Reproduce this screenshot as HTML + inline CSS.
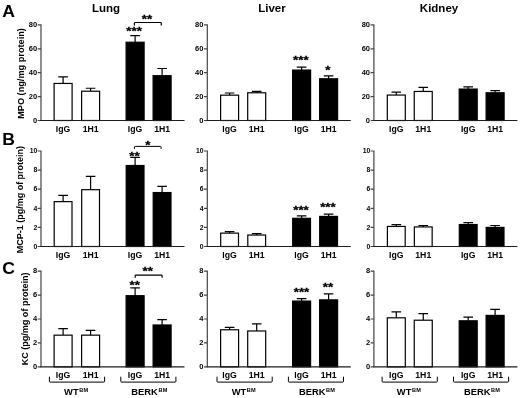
<!DOCTYPE html>
<html><head><meta charset="utf-8"><title>Figure</title>
<style>html,body{margin:0;padding:0;background:#fff}body{width:520px;height:398px;overflow:hidden}</style>
</head><body>
<svg width="520" height="398" viewBox="0 0 520 398" style="display:block">
<rect width="520" height="398" fill="#fff"/>
<g font-family='"Liberation Sans", sans-serif' font-weight="bold" fill="#000" stroke="none">
<path d="M63.10 83.45V76.88M58.30 76.88H67.90" stroke="#000" stroke-width="1.2" fill="none"/>
<rect x="54.10" y="83.45" width="18.0" height="37.05" fill="#fff" stroke="#000" stroke-width="1.2"/>
<path d="M90.60 91.22V88.23M85.80 88.23H95.40" stroke="#000" stroke-width="1.2" fill="none"/>
<rect x="81.60" y="91.22" width="18.0" height="29.28" fill="#fff" stroke="#000" stroke-width="1.2"/>
<path d="M135.10 42.23V35.66M130.30 35.66H139.90" stroke="#000" stroke-width="1.2" fill="none"/>
<rect x="126.10" y="42.23" width="18.0" height="78.27" fill="#000" stroke="#000" stroke-width="1.2"/>
<path d="M162.10 75.69V68.52M157.30 68.52H166.90" stroke="#000" stroke-width="1.2" fill="none"/>
<rect x="153.10" y="75.69" width="18.0" height="44.81" fill="#000" stroke="#000" stroke-width="1.2"/>
<path d="M41.00 24.30V120.50M37.70 120.50H41.00M37.70 96.60H41.00M37.70 72.70H41.00M37.70 48.80H41.00M37.70 24.90H41.00" stroke="#444" stroke-width="1.2" fill="none"/>
<path d="M40.40 120.50H184.50" stroke="#1c1c1c" stroke-width="1.2" fill="none"/>
<text x="37.10" y="123.09" font-size="7.5" text-anchor="end">0</text>
<text x="37.10" y="99.19" font-size="7.5" text-anchor="end">20</text>
<text x="37.10" y="75.29" font-size="7.5" text-anchor="end">40</text>
<text x="37.10" y="51.39" font-size="7.5" text-anchor="end">60</text>
<text x="37.10" y="27.49" font-size="7.5" text-anchor="end">80</text>
<text x="63.10" y="131.50" font-size="8.7" text-anchor="middle">IgG</text>
<text x="90.60" y="131.50" font-size="8.7" text-anchor="middle">1H1</text>
<text x="135.10" y="131.50" font-size="8.7" text-anchor="middle">IgG</text>
<text x="162.10" y="131.50" font-size="8.7" text-anchor="middle">1H1</text>
<path d="M229.60 95.17V93.02M224.80 93.02H234.40" stroke="#000" stroke-width="1.2" fill="none"/>
<rect x="220.60" y="95.17" width="18.0" height="25.33" fill="#fff" stroke="#000" stroke-width="1.2"/>
<path d="M256.70 92.78V91.34M251.90 91.34H261.50" stroke="#000" stroke-width="1.2" fill="none"/>
<rect x="247.70" y="92.78" width="18.0" height="27.72" fill="#fff" stroke="#000" stroke-width="1.2"/>
<path d="M301.60 70.07V67.20M296.80 67.20H306.40" stroke="#000" stroke-width="1.2" fill="none"/>
<rect x="292.60" y="70.07" width="18.0" height="50.43" fill="#000" stroke="#000" stroke-width="1.2"/>
<path d="M328.60 78.79V75.93M323.80 75.93H333.40" stroke="#000" stroke-width="1.2" fill="none"/>
<rect x="319.60" y="78.79" width="18.0" height="41.71" fill="#000" stroke="#000" stroke-width="1.2"/>
<path d="M207.30 24.30V120.50M204.00 120.50H207.30M204.00 96.60H207.30M204.00 72.70H207.30M204.00 48.80H207.30M204.00 24.90H207.30" stroke="#444" stroke-width="1.2" fill="none"/>
<path d="M206.70 120.50H350.80" stroke="#1c1c1c" stroke-width="1.2" fill="none"/>
<text x="203.40" y="123.09" font-size="7.5" text-anchor="end">0</text>
<text x="203.40" y="99.19" font-size="7.5" text-anchor="end">20</text>
<text x="203.40" y="75.29" font-size="7.5" text-anchor="end">40</text>
<text x="203.40" y="51.39" font-size="7.5" text-anchor="end">60</text>
<text x="203.40" y="27.49" font-size="7.5" text-anchor="end">80</text>
<text x="229.60" y="131.50" font-size="8.7" text-anchor="middle">IgG</text>
<text x="256.70" y="131.50" font-size="8.7" text-anchor="middle">1H1</text>
<text x="301.60" y="131.50" font-size="8.7" text-anchor="middle">IgG</text>
<text x="328.60" y="131.50" font-size="8.7" text-anchor="middle">1H1</text>
<path d="M396.30 95.05V92.06M391.50 92.06H401.10" stroke="#000" stroke-width="1.2" fill="none"/>
<rect x="387.30" y="95.05" width="18.0" height="25.45" fill="#fff" stroke="#000" stroke-width="1.2"/>
<path d="M423.25 91.46V87.28M418.45 87.28H428.05" stroke="#000" stroke-width="1.2" fill="none"/>
<rect x="414.25" y="91.46" width="18.0" height="29.04" fill="#fff" stroke="#000" stroke-width="1.2"/>
<path d="M468.20 89.07V86.92M463.40 86.92H473.00" stroke="#000" stroke-width="1.2" fill="none"/>
<rect x="459.20" y="89.07" width="18.0" height="31.43" fill="#000" stroke="#000" stroke-width="1.2"/>
<path d="M495.10 92.78V90.62M490.30 90.62H499.90" stroke="#000" stroke-width="1.2" fill="none"/>
<rect x="486.10" y="92.78" width="18.0" height="27.72" fill="#000" stroke="#000" stroke-width="1.2"/>
<path d="M373.90 24.30V120.50M370.60 120.50H373.90M370.60 96.60H373.90M370.60 72.70H373.90M370.60 48.80H373.90M370.60 24.90H373.90" stroke="#444" stroke-width="1.2" fill="none"/>
<path d="M373.30 120.50H517.40" stroke="#1c1c1c" stroke-width="1.2" fill="none"/>
<text x="370.00" y="123.09" font-size="7.5" text-anchor="end">0</text>
<text x="370.00" y="99.19" font-size="7.5" text-anchor="end">20</text>
<text x="370.00" y="75.29" font-size="7.5" text-anchor="end">40</text>
<text x="370.00" y="51.39" font-size="7.5" text-anchor="end">60</text>
<text x="370.00" y="27.49" font-size="7.5" text-anchor="end">80</text>
<text x="396.30" y="131.50" font-size="8.7" text-anchor="middle">IgG</text>
<text x="423.25" y="131.50" font-size="8.7" text-anchor="middle">1H1</text>
<text x="468.20" y="131.50" font-size="8.7" text-anchor="middle">IgG</text>
<text x="495.10" y="131.50" font-size="8.7" text-anchor="middle">1H1</text>
<text transform="translate(23.5 73.5) rotate(-90) scale(1 0.94)" font-size="9.2" text-anchor="middle">MPO (ng/mg protein)</text>
<text transform="translate(2.3 17.25) scale(1.06 1.02)" font-size="16.6">A</text>
<path d="M63.10 201.62V195.41M58.30 195.41H67.90" stroke="#000" stroke-width="1.2" fill="none"/>
<rect x="54.20" y="201.62" width="17.8" height="44.88" fill="#fff" stroke="#000" stroke-width="1.2"/>
<path d="M90.60 189.68V176.31M85.80 176.31H95.40" stroke="#000" stroke-width="1.2" fill="none"/>
<rect x="81.70" y="189.68" width="17.8" height="56.82" fill="#fff" stroke="#000" stroke-width="1.2"/>
<path d="M135.10 165.52V157.40M130.30 157.40H139.90" stroke="#000" stroke-width="1.2" fill="none"/>
<rect x="126.20" y="165.52" width="17.8" height="80.98" fill="#000" stroke="#000" stroke-width="1.2"/>
<path d="M162.10 192.54V186.33M157.30 186.33H166.90" stroke="#000" stroke-width="1.2" fill="none"/>
<rect x="153.20" y="192.54" width="17.8" height="53.96" fill="#000" stroke="#000" stroke-width="1.2"/>
<path d="M41.00 150.40V246.50M37.70 246.50H41.00M37.70 227.40H41.00M37.70 208.30H41.00M37.70 189.20H41.00M37.70 170.10H41.00M37.70 151.00H41.00" stroke="#444" stroke-width="1.2" fill="none"/>
<path d="M40.40 246.50H184.50" stroke="#1c1c1c" stroke-width="1.2" fill="none"/>
<text x="37.30" y="248.75" font-size="6.8" text-anchor="end">0</text>
<text x="37.30" y="229.65" font-size="6.8" text-anchor="end">2</text>
<text x="37.30" y="210.55" font-size="6.8" text-anchor="end">4</text>
<text x="37.30" y="191.45" font-size="6.8" text-anchor="end">6</text>
<text x="37.30" y="172.35" font-size="6.8" text-anchor="end">8</text>
<text x="37.30" y="153.25" font-size="6.8" text-anchor="end">10</text>
<text x="63.10" y="257.60" font-size="8.7" text-anchor="middle">IgG</text>
<text x="90.60" y="257.60" font-size="8.7" text-anchor="middle">1H1</text>
<text x="135.10" y="257.60" font-size="8.7" text-anchor="middle">IgG</text>
<text x="162.10" y="257.60" font-size="8.7" text-anchor="middle">1H1</text>
<path d="M229.60 233.13V231.70M224.80 231.70H234.40" stroke="#000" stroke-width="1.2" fill="none"/>
<rect x="220.70" y="233.13" width="17.8" height="13.37" fill="#fff" stroke="#000" stroke-width="1.2"/>
<path d="M256.70 235.04V233.61M251.90 233.61H261.50" stroke="#000" stroke-width="1.2" fill="none"/>
<rect x="247.80" y="235.04" width="17.8" height="11.46" fill="#fff" stroke="#000" stroke-width="1.2"/>
<path d="M301.60 218.33V215.84M296.80 215.84H306.40" stroke="#000" stroke-width="1.2" fill="none"/>
<rect x="292.70" y="218.33" width="17.8" height="28.17" fill="#000" stroke="#000" stroke-width="1.2"/>
<path d="M328.60 216.42V214.03M323.80 214.03H333.40" stroke="#000" stroke-width="1.2" fill="none"/>
<rect x="319.70" y="216.42" width="17.8" height="30.08" fill="#000" stroke="#000" stroke-width="1.2"/>
<path d="M207.30 150.40V246.50M204.00 246.50H207.30M204.00 227.40H207.30M204.00 208.30H207.30M204.00 189.20H207.30M204.00 170.10H207.30M204.00 151.00H207.30" stroke="#444" stroke-width="1.2" fill="none"/>
<path d="M206.70 246.50H350.80" stroke="#1c1c1c" stroke-width="1.2" fill="none"/>
<text x="203.60" y="248.75" font-size="6.8" text-anchor="end">0</text>
<text x="203.60" y="229.65" font-size="6.8" text-anchor="end">2</text>
<text x="203.60" y="210.55" font-size="6.8" text-anchor="end">4</text>
<text x="203.60" y="191.45" font-size="6.8" text-anchor="end">6</text>
<text x="203.60" y="172.35" font-size="6.8" text-anchor="end">8</text>
<text x="203.60" y="153.25" font-size="6.8" text-anchor="end">10</text>
<text x="229.60" y="257.60" font-size="8.7" text-anchor="middle">IgG</text>
<text x="256.70" y="257.60" font-size="8.7" text-anchor="middle">1H1</text>
<text x="301.60" y="257.60" font-size="8.7" text-anchor="middle">IgG</text>
<text x="328.60" y="257.60" font-size="8.7" text-anchor="middle">1H1</text>
<path d="M396.30 226.44V224.53M391.50 224.53H401.10" stroke="#000" stroke-width="1.2" fill="none"/>
<rect x="387.40" y="226.44" width="17.8" height="20.06" fill="#fff" stroke="#000" stroke-width="1.2"/>
<path d="M423.25 226.92V225.49M418.45 225.49H428.05" stroke="#000" stroke-width="1.2" fill="none"/>
<rect x="414.35" y="226.92" width="17.8" height="19.58" fill="#fff" stroke="#000" stroke-width="1.2"/>
<path d="M468.20 224.53V222.62M463.40 222.62H473.00" stroke="#000" stroke-width="1.2" fill="none"/>
<rect x="459.30" y="224.53" width="17.8" height="21.97" fill="#000" stroke="#000" stroke-width="1.2"/>
<path d="M495.10 227.40V225.49M490.30 225.49H499.90" stroke="#000" stroke-width="1.2" fill="none"/>
<rect x="486.20" y="227.40" width="17.8" height="19.10" fill="#000" stroke="#000" stroke-width="1.2"/>
<path d="M373.90 150.40V246.50M370.60 246.50H373.90M370.60 227.40H373.90M370.60 208.30H373.90M370.60 189.20H373.90M370.60 170.10H373.90M370.60 151.00H373.90" stroke="#444" stroke-width="1.2" fill="none"/>
<path d="M373.30 246.50H517.40" stroke="#1c1c1c" stroke-width="1.2" fill="none"/>
<text x="370.20" y="248.75" font-size="6.8" text-anchor="end">0</text>
<text x="370.20" y="229.65" font-size="6.8" text-anchor="end">2</text>
<text x="370.20" y="210.55" font-size="6.8" text-anchor="end">4</text>
<text x="370.20" y="191.45" font-size="6.8" text-anchor="end">6</text>
<text x="370.20" y="172.35" font-size="6.8" text-anchor="end">8</text>
<text x="370.20" y="153.25" font-size="6.8" text-anchor="end">10</text>
<text x="396.30" y="257.60" font-size="8.7" text-anchor="middle">IgG</text>
<text x="423.25" y="257.60" font-size="8.7" text-anchor="middle">1H1</text>
<text x="468.20" y="257.60" font-size="8.7" text-anchor="middle">IgG</text>
<text x="495.10" y="257.60" font-size="8.7" text-anchor="middle">1H1</text>
<text transform="translate(23.3 199.6) rotate(-90) scale(1 0.94)" font-size="9.0" text-anchor="middle">MCP-1 (pg/mg of protein)</text>
<text transform="translate(2.3 144.9) scale(1.06 1.02)" font-size="16.6">B</text>
<path d="M63.10 335.16V328.58M58.30 328.58H67.90" stroke="#000" stroke-width="1.2" fill="none"/>
<rect x="54.10" y="335.16" width="18.0" height="31.69" fill="#fff" stroke="#000" stroke-width="1.2"/>
<path d="M90.60 335.16V330.37M85.80 330.37H95.40" stroke="#000" stroke-width="1.2" fill="none"/>
<rect x="81.60" y="335.16" width="18.0" height="31.69" fill="#fff" stroke="#000" stroke-width="1.2"/>
<path d="M135.10 295.69V287.91M130.30 287.91H139.90" stroke="#000" stroke-width="1.2" fill="none"/>
<rect x="126.10" y="295.69" width="18.0" height="71.16" fill="#000" stroke="#000" stroke-width="1.2"/>
<path d="M162.10 324.99V319.61M157.30 319.61H166.90" stroke="#000" stroke-width="1.2" fill="none"/>
<rect x="153.10" y="324.99" width="18.0" height="41.86" fill="#000" stroke="#000" stroke-width="1.2"/>
<path d="M41.00 270.57V366.85M37.70 366.85H41.00M37.70 342.93H41.00M37.70 319.01H41.00M37.70 295.09H41.00M37.70 271.17H41.00" stroke="#444" stroke-width="1.2" fill="none"/>
<path d="M40.40 366.85H184.50" stroke="#1c1c1c" stroke-width="1.2" fill="none"/>
<text x="37.20" y="369.09" font-size="7.5" text-anchor="end">0</text>
<text x="37.20" y="345.17" font-size="7.5" text-anchor="end">2</text>
<text x="37.20" y="321.25" font-size="7.5" text-anchor="end">4</text>
<text x="37.20" y="297.33" font-size="7.5" text-anchor="end">6</text>
<text x="37.20" y="273.41" font-size="7.5" text-anchor="end">8</text>
<text x="63.10" y="377.65" font-size="8.7" text-anchor="middle">IgG</text>
<text x="90.60" y="377.65" font-size="8.7" text-anchor="middle">1H1</text>
<text x="135.10" y="377.65" font-size="8.7" text-anchor="middle">IgG</text>
<text x="162.10" y="377.65" font-size="8.7" text-anchor="middle">1H1</text>
<path d="M229.60 329.77V327.38M224.80 327.38H234.40" stroke="#000" stroke-width="1.2" fill="none"/>
<rect x="220.60" y="329.77" width="18.0" height="37.08" fill="#fff" stroke="#000" stroke-width="1.2"/>
<path d="M256.70 330.97V323.79M251.90 323.79H261.50" stroke="#000" stroke-width="1.2" fill="none"/>
<rect x="247.70" y="330.97" width="18.0" height="35.88" fill="#fff" stroke="#000" stroke-width="1.2"/>
<path d="M301.60 301.07V298.68M296.80 298.68H306.40" stroke="#000" stroke-width="1.2" fill="none"/>
<rect x="292.60" y="301.07" width="18.0" height="65.78" fill="#000" stroke="#000" stroke-width="1.2"/>
<path d="M328.60 299.87V293.89M323.80 293.89H333.40" stroke="#000" stroke-width="1.2" fill="none"/>
<rect x="319.60" y="299.87" width="18.0" height="66.98" fill="#000" stroke="#000" stroke-width="1.2"/>
<path d="M207.30 270.57V366.85M204.00 366.85H207.30M204.00 342.93H207.30M204.00 319.01H207.30M204.00 295.09H207.30M204.00 271.17H207.30" stroke="#444" stroke-width="1.2" fill="none"/>
<path d="M206.70 366.85H350.80" stroke="#1c1c1c" stroke-width="1.2" fill="none"/>
<text x="203.50" y="369.09" font-size="7.5" text-anchor="end">0</text>
<text x="203.50" y="345.17" font-size="7.5" text-anchor="end">2</text>
<text x="203.50" y="321.25" font-size="7.5" text-anchor="end">4</text>
<text x="203.50" y="297.33" font-size="7.5" text-anchor="end">6</text>
<text x="203.50" y="273.41" font-size="7.5" text-anchor="end">8</text>
<text x="229.60" y="377.65" font-size="8.7" text-anchor="middle">IgG</text>
<text x="256.70" y="377.65" font-size="8.7" text-anchor="middle">1H1</text>
<text x="301.60" y="377.65" font-size="8.7" text-anchor="middle">IgG</text>
<text x="328.60" y="377.65" font-size="8.7" text-anchor="middle">1H1</text>
<path d="M396.30 317.81V311.83M391.50 311.83H401.10" stroke="#000" stroke-width="1.2" fill="none"/>
<rect x="387.30" y="317.81" width="18.0" height="49.04" fill="#fff" stroke="#000" stroke-width="1.2"/>
<path d="M423.25 320.21V313.63M418.45 313.63H428.05" stroke="#000" stroke-width="1.2" fill="none"/>
<rect x="414.25" y="320.21" width="18.0" height="46.64" fill="#fff" stroke="#000" stroke-width="1.2"/>
<path d="M468.20 320.80V317.22M463.40 317.22H473.00" stroke="#000" stroke-width="1.2" fill="none"/>
<rect x="459.20" y="320.80" width="18.0" height="46.05" fill="#000" stroke="#000" stroke-width="1.2"/>
<path d="M495.10 315.42V309.44M490.30 309.44H499.90" stroke="#000" stroke-width="1.2" fill="none"/>
<rect x="486.10" y="315.42" width="18.0" height="51.43" fill="#000" stroke="#000" stroke-width="1.2"/>
<path d="M373.90 270.57V366.85M370.60 366.85H373.90M370.60 342.93H373.90M370.60 319.01H373.90M370.60 295.09H373.90M370.60 271.17H373.90" stroke="#444" stroke-width="1.2" fill="none"/>
<path d="M373.30 366.85H517.40" stroke="#1c1c1c" stroke-width="1.2" fill="none"/>
<text x="370.10" y="369.09" font-size="7.5" text-anchor="end">0</text>
<text x="370.10" y="345.17" font-size="7.5" text-anchor="end">2</text>
<text x="370.10" y="321.25" font-size="7.5" text-anchor="end">4</text>
<text x="370.10" y="297.33" font-size="7.5" text-anchor="end">6</text>
<text x="370.10" y="273.41" font-size="7.5" text-anchor="end">8</text>
<text x="396.30" y="377.65" font-size="8.7" text-anchor="middle">IgG</text>
<text x="423.25" y="377.65" font-size="8.7" text-anchor="middle">1H1</text>
<text x="468.20" y="377.65" font-size="8.7" text-anchor="middle">IgG</text>
<text x="495.10" y="377.65" font-size="8.7" text-anchor="middle">1H1</text>
<text transform="translate(27.6 318.9) rotate(-90) scale(1 0.94)" font-size="9.05" text-anchor="middle">KC (pg/mg of protein)</text>
<text transform="translate(2.3 273.5) scale(1.06 1.02)" font-size="16.6">C</text>
<text x="106" y="12" font-size="11.5" text-anchor="middle">Lung</text>
<text x="272" y="12" font-size="11.5" text-anchor="middle">Liver</text>
<text x="439" y="12" font-size="11.5" text-anchor="middle">Kidney</text>
<text transform="translate(146.90 22.90) scale(1.21 1)" font-size="11.0" text-anchor="middle" stroke="#000" stroke-width="0.3">**</text>
<text transform="translate(134.10 35.10) scale(1.21 1)" font-size="11.0" text-anchor="middle" stroke="#000" stroke-width="0.3">***</text>
<path d="M134.40 25.50V23.20Q134.40 22.50 135.10 22.50H160.60Q161.30 22.50 161.30 23.20V25.50" stroke="#000" stroke-width="1.2" fill="none"/>
<text transform="translate(300.80 64.30) scale(1.21 1)" font-size="11.0" text-anchor="middle" stroke="#000" stroke-width="0.3">***</text>
<text transform="translate(327.80 73.70) scale(1.21 1)" font-size="11.0" text-anchor="middle" stroke="#000" stroke-width="0.3">*</text>
<text transform="translate(147.80 148.50) scale(1.21 1)" font-size="11.0" text-anchor="middle" stroke="#000" stroke-width="0.3">*</text>
<text transform="translate(134.50 159.50) scale(1.21 1)" font-size="11.0" text-anchor="middle" stroke="#000" stroke-width="0.3">**</text>
<path d="M134.50 148.90V147.10Q134.50 146.40 135.20 146.40H160.40Q161.10 146.40 161.10 147.10V148.90" stroke="#000" stroke-width="1.0" fill="none"/>
<text transform="translate(301.00 213.50) scale(1.21 1)" font-size="11.0" text-anchor="middle" stroke="#000" stroke-width="0.3">***</text>
<text transform="translate(327.90 211.20) scale(1.21 1)" font-size="11.0" text-anchor="middle" stroke="#000" stroke-width="0.3">***</text>
<text transform="translate(147.80 275.20) scale(1.21 1)" font-size="11.0" text-anchor="middle" stroke="#000" stroke-width="0.3">**</text>
<text transform="translate(134.70 288.90) scale(1.21 1)" font-size="11.0" text-anchor="middle" stroke="#000" stroke-width="0.3">**</text>
<path d="M135.20 277.80V275.80Q135.20 275.10 135.90 275.10H161.40Q162.10 275.10 162.10 275.80V277.80" stroke="#000" stroke-width="1.2" fill="none"/>
<text transform="translate(301.50 296.20) scale(1.21 1)" font-size="11.0" text-anchor="middle" stroke="#000" stroke-width="0.3">***</text>
<text transform="translate(327.90 291.20) scale(1.21 1)" font-size="11.0" text-anchor="middle" stroke="#000" stroke-width="0.3">**</text>
<path d="M49.40 376.70V381.40Q49.40 382.10 50.10 382.10H103.90Q104.60 382.10 104.60 381.40V376.70" stroke="#000" stroke-width="1.0" fill="none"/>
<text x="64.10" y="395.3" font-size="9.4">WT<tspan font-size="5.6" dy="-3.3" dx="0.5" letter-spacing="0.25">BM</tspan></text>
<path d="M120.80 376.70V381.40Q120.80 382.10 121.50 382.10H175.20Q175.90 382.10 175.90 381.40V376.70" stroke="#000" stroke-width="1.0" fill="none"/>
<text x="131.30" y="395.3" font-size="9.4">BERK<tspan font-size="5.6" dy="-3.3" dx="0.5" letter-spacing="0.25">BM</tspan></text>
<path d="M217.00 376.70V381.40Q217.00 382.10 217.70 382.10H271.50Q272.20 382.10 272.20 381.40V376.70" stroke="#000" stroke-width="1.0" fill="none"/>
<text x="231.70" y="395.3" font-size="9.4">WT<tspan font-size="5.6" dy="-3.3" dx="0.5" letter-spacing="0.25">BM</tspan></text>
<path d="M288.40 376.70V381.40Q288.40 382.10 289.10 382.10H342.80Q343.50 382.10 343.50 381.40V376.70" stroke="#000" stroke-width="1.0" fill="none"/>
<text x="298.90" y="395.3" font-size="9.4">BERK<tspan font-size="5.6" dy="-3.3" dx="0.5" letter-spacing="0.25">BM</tspan></text>
<path d="M382.10 376.70V381.40Q382.10 382.10 382.80 382.10H436.60Q437.30 382.10 437.30 381.40V376.70" stroke="#000" stroke-width="1.0" fill="none"/>
<text x="396.80" y="395.3" font-size="9.4">WT<tspan font-size="5.6" dy="-3.3" dx="0.5" letter-spacing="0.25">BM</tspan></text>
<path d="M453.50 376.70V381.40Q453.50 382.10 454.20 382.10H507.90Q508.60 382.10 508.60 381.40V376.70" stroke="#000" stroke-width="1.0" fill="none"/>
<text x="464.00" y="395.3" font-size="9.4">BERK<tspan font-size="5.6" dy="-3.3" dx="0.5" letter-spacing="0.25">BM</tspan></text>
</g></svg>
</body></html>
